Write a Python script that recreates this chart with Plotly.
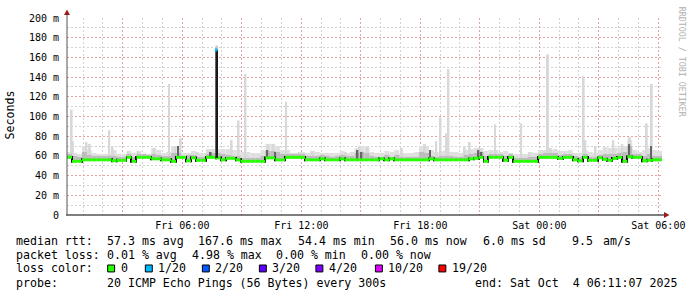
import plotly.graph_objects as go
import pandas as pd

# ---------------- data ----------------
START = "2025-10-03 00:11:07"
END = "2025-10-04 06:11:07"
STEP = "15min"

# median rtt per 15-minute step (ms)
median_ms = [
    58.5, 54.5, 54.5, 56, 56, 56, 56, 56, 56, 55,
    55.5, 55.5, 58.5, 54.5, 58.5, 58.5, 58.5, 57, 57, 56,
    56, 54.5, 58.5, 58.5, 55, 58, 55.5, 55.5, 58.5, 58.5,
    58, 56, 57.5, 57.5, 56, 54.5, 54.5, 54.5, 54.5, 54.5,
    58, 58, 56, 56, 58.5, 58.5, 58.5, 58.5, 56, 56,
    56, 57, 56, 56, 56, 57, 56, 56, 56, 56,
    56, 56, 56, 57, 56, 57, 56, 56, 56, 56,
    56, 56, 56, 57, 56, 56, 56, 56, 56, 56,
    56, 57, 57.5, 58.5, 54.5, 58.5, 58.5, 58.5, 55.5, 58.5,
    54.5, 54.5, 54.5, 54.5, 54.5, 58.5, 58.5, 58.5, 58.5, 57.5,
    58.5, 58.5, 56, 55, 58.5, 55.5, 55.5, 58, 56.5, 55.5,
    57.5, 58.5, 54.5, 59, 58.5, 58.5, 55, 55.5, 56, 56,
]

# highest ping per step (light smoke top, ms)
smoke_max_ms = [
    64, 63, 62, 70, 66, 63, 62, 62, 62, 66,
    62, 62, 65, 63, 65, 62, 62, 68, 66, 63,
    64, 70, 70, 63, 63, 65, 63, 63, 67, 67,
    67, 67, 67, 66, 66, 64, 64, 63, 63, 66,
    72, 72, 70, 66, 66, 63, 63, 64, 63, 65,
    64, 63, 63, 63, 63, 65, 63, 64, 68, 70,
    69, 64, 63, 63, 65, 64, 66, 63, 63, 63,
    64, 70, 70, 66, 64, 65, 66, 64, 64, 63,
    66, 67, 68, 68, 65, 66, 66, 64, 65, 63,
    62, 62, 62, 64, 63, 66, 66, 66, 67, 65,
    65, 66, 63, 63, 66, 64, 63, 66, 69, 68,
    68, 68, 70, 76, 66, 64, 66, 68, 66, 65,
]

# denser part of the ping distribution (medium smoke top, ms)
smoke_mid_ms = [
    62, 60, 59, 64, 61, 60, 60, 60, 60, 60,
    59, 59, 62, 59, 62, 62, 61, 62, 61, 60,
    60, 63, 63, 60, 61, 61, 59, 59, 62, 63,
    63, 62, 61, 60, 60, 58, 58, 58, 58, 60,
    65, 65, 64, 62, 62, 62, 62, 62, 60, 60,
    60, 61, 60, 59, 60, 61, 60, 60, 63, 64,
    63, 60, 59, 59, 61, 59, 61, 59, 59, 59,
    59, 64, 63, 60, 59, 60, 60, 60, 59, 59,
    61, 62, 63, 64, 60, 62, 62, 62, 60, 62,
    58, 58, 58, 59, 59, 62, 63, 63, 63, 61,
    62, 62, 60, 59, 62, 59, 59, 61, 62, 62,
    62, 63, 64, 70, 62, 62, 60, 62, 60, 60,
]

# isolated slow pings (light gray spikes)
spike_times = [
    "2025-10-03 00:25", "2025-10-03 00:29", "2025-10-03 01:10", "2025-10-03 01:20",
    "2025-10-03 02:19", "2025-10-03 02:29", "2025-10-03 03:16", "2025-10-03 03:47",
    "2025-10-03 04:35", "2025-10-03 05:20", "2025-10-03 05:38", "2025-10-03 05:55",
    "2025-10-03 06:46", "2025-10-03 07:20", "2025-10-03 08:29", "2025-10-03 08:50",
    "2025-10-03 09:11", "2025-10-03 10:20", "2025-10-03 10:35", "2025-10-03 11:14",
    "2025-10-03 11:53", "2025-10-03 12:35", "2025-10-03 14:14", "2025-10-03 14:56",
    "2025-10-03 15:20", "2025-10-03 17:04", "2025-10-03 18:14", "2025-10-03 18:48",
    "2025-10-03 19:01", "2025-10-03 19:18", "2025-10-03 19:25", "2025-10-03 20:14",
    "2025-10-03 20:29", "2025-10-03 20:59", "2025-10-03 21:46", "2025-10-03 23:05",
    "2025-10-03 23:29", "2025-10-04 00:26", "2025-10-04 00:35", "2025-10-04 02:14",
    "2025-10-04 02:19", "2025-10-04 02:50", "2025-10-04 03:44", "2025-10-04 04:11",
    "2025-10-04 04:34", "2025-10-04 05:25", "2025-10-04 05:40",
]
spike_tops = [
    107, 75, 74, 72, 86, 70, 65, 65, 68, 133, 70, 78,
    64, 65, 76, 96, 143, 72, 72, 115, 64, 65, 64, 70,
    70, 68, 72, 75, 99, 83, 148, 70, 74, 68, 92, 93,
    64, 163, 68, 141, 76, 70, 76, 72, 79, 93, 133,
]

# dark (dense) smoke bursts
dark_times = [
    "2025-10-03 05:47", "2025-10-03 07:26", "2025-10-03 10:17", "2025-10-03 10:41",
    "2025-10-03 14:50", "2025-10-03 15:02", "2025-10-03 18:29", "2025-10-03 20:56",
    "2025-10-03 21:05", "2025-10-04 04:32", "2025-10-04 05:38",
]
dark_tops = [70, 64, 66, 64, 66, 64, 66, 66, 64, 72, 70]

# the median peak with packet loss
peak_times = ["2025-10-03 07:44"]
peak_base = [58.0]
peak_median = [167.6]
peak_smoke_top = [172.0]
peak_loss = [1]

loss_colors = {0: "#26ff00", 1: "#00b8ff", 2: "#0059ff", 3: "#5e00ff",
               4: "#7e00ff", 10: "#dd00ff", 19: "#ff0000"}
loss_labels = ["0", "1/20", "2/20", "3/20", "4/20", "10/20", "19/20"]
loss_keys = [0, 1, 2, 3, 4, 10, 19]

tick_times = ["2025-10-03 03:00", "2025-10-03 06:00", "2025-10-03 09:00",
              "2025-10-03 12:00", "2025-10-03 15:00", "2025-10-03 18:00",
              "2025-10-03 21:00", "2025-10-04 00:00", "2025-10-04 03:00",
              "2025-10-04 06:00"]
tick_labels = ["", "Fri 06:00", "", "Fri 12:00", "", "Fri 18:00", "",
               "Sat 00:00", "", "Sat 06:00"]
ytick_vals = [0, 20, 40, 60, 80, 100, 120, 140, 160, 180, 200]
ytick_labels = ["0", "20 m", "40 m", "60 m", "80 m", "100 m", "120 m",
                "140 m", "160 m", "180 m", "200 m"]

stats_rtt = ["57.3 ms avg", "167.6 ms max", "54.4 ms min", "56.0 ms now", "6.0 ms sd", "9.5", "am/s"]
stats_loss = ["0.01 % avg", "4.98 % max", "0.00 % min", "0.00 % now"]
probe_text = "20 ICMP Echo Pings (56 Bytes) every 300s"
end_text = "end: Sat Oct  4 06:11:07 2025"

# ---------------- geometry helpers ----------------
W, H = 697, 297
L, R, T, B = 67, 30, 16, 82
PW, PH = W - L - R, H - T - B


def px(x):
    return (x - L) / PW


def py(y):
    return (H - B - y) / PH


MIN = 60000
starts = pd.date_range(START, periods=len(median_ms), freq=STEP)
centers = starts + pd.Timedelta(minutes=7.5)
start_ts = pd.Timestamp(START)


def median_at(t):
    i = int((pd.Timestamp(t) - start_ts) / pd.Timedelta(STEP))
    i = max(0, min(len(median_ms) - 1, i))
    return median_ms[i]


fig = go.Figure()

# light smoke
fig.add_trace(go.Bar(x=centers, base=median_ms,
                     y=[a - b for a, b in zip(smoke_max_ms, median_ms)],
                     width=15 * MIN, marker=dict(color="#e0e0e0", line=dict(width=0))))
sb = [median_at(t) for t in spike_times]
fig.add_trace(go.Bar(x=pd.to_datetime(spike_times), base=sb,
                     y=[a - b for a, b in zip(spike_tops, sb)],
                     width=6 * MIN, marker=dict(color="#d8d8d8", line=dict(width=0))))
fig.add_trace(go.Bar(x=pd.to_datetime(peak_times), base=peak_base,
                     y=[a - b for a, b in zip(peak_smoke_top, peak_base)],
                     width=8 * MIN, marker=dict(color="#c8c8c8", line=dict(width=0))))
# medium smoke
fig.add_trace(go.Bar(x=centers, base=median_ms,
                     y=[a - b for a, b in zip(smoke_mid_ms, median_ms)],
                     width=15 * MIN, marker=dict(color="#bdbdbd", line=dict(width=0))))
# dark smoke
db = [median_at(t) for t in dark_times]
fig.add_trace(go.Bar(x=pd.to_datetime(dark_times), base=db,
                     y=[a - b for a, b in zip(dark_tops, db)],
                     width=5 * MIN, marker=dict(color="#666666", line=dict(width=0))))
# black step edges of the median line
ex, eb, eh = [], [], []
for i in range(1, len(median_ms)):
    if median_ms[i] != median_ms[i - 1]:
        ex.append(starts[i])
        eb.append(min(median_ms[i], median_ms[i - 1]) - 1.5)
        eh.append(abs(median_ms[i] - median_ms[i - 1]) + 3)
fig.add_trace(go.Bar(x=ex, base=eb, y=eh, width=3 * MIN,
                     marker=dict(color="#000000", line=dict(width=0))))
# median band coloured by loss (0 loss)
fig.add_trace(go.Bar(x=centers, base=[m - 1.5 for m in median_ms], y=[3] * len(median_ms),
                     width=15 * MIN, marker=dict(color=loss_colors[0], line=dict(width=0))))
# median peak
fig.add_trace(go.Bar(x=pd.to_datetime(peak_times), base=peak_base,
                     y=[a - b for a, b in zip(peak_median, peak_base)],
                     width=8 * MIN, marker=dict(color="#1a1a1a", line=dict(width=0))))
fig.add_trace(go.Bar(x=pd.to_datetime(peak_times), base=[m - 1.5 for m in peak_median],
                     y=[3] * len(peak_median), width=5 * MIN,
                     marker=dict(color=[loss_colors[k] for k in peak_loss], line=dict(width=0))))

mono = "DejaVu Sans Mono"
red_grid = "rgba(235,140,140,0.7)"
gray_grid = "#d2d2d2"

fig.update_layout(
    width=W, height=H, margin=dict(l=L, r=R, t=T, b=B, pad=0),
    paper_bgcolor="white", plot_bgcolor="white", barmode="overlay", showlegend=False,
    font=dict(family=mono, color="black"),
    xaxis=dict(type="date", range=[START, END], tickmode="array", tickvals=tick_times,
               ticktext=tick_labels, showgrid=True, gridcolor=red_grid, griddash="2px,2px",
               gridwidth=1, showline=False, zeroline=False, ticks="", ticklabelstandoff=3,
               tickfont=dict(family=mono, size=10, color="black"),
               minor=dict(dtick=3600000, tick0="2025-10-03 00:00", showgrid=True,
                          gridcolor=gray_grid, griddash="2px,2px", gridwidth=1, ticks=""),
               fixedrange=True),
    yaxis=dict(range=[0, 200], tickmode="array", tickvals=ytick_vals, ticktext=ytick_labels,
               showgrid=True, gridcolor=red_grid, griddash="2px,2px", gridwidth=1,
               showline=False, zeroline=False, ticks="", ticklabelstandoff=7,
               tickfont=dict(family=mono, size=10, color="black"),
               minor=dict(dtick=10, showgrid=True, gridcolor=gray_grid, griddash="2px,2px",
                          gridwidth=1, ticks=""),
               fixedrange=True),
)

shapes = []
# axes with arrows
shapes.append(dict(type="line", xref="paper", yref="paper", x0=px(66), x1=px(670),
                   y0=py(215), y1=py(215), line=dict(color="black", width=1)))
shapes.append(dict(type="line", xref="paper", yref="paper", x0=px(67), x1=px(67),
                   y0=py(215), y1=py(11), line=dict(color="#555555", width=1)))
shapes.append(dict(type="path", xref="paper", yref="paper",
                   path=f"M {px(64)} {py(13)} L {px(70)} {py(13)} L {px(67)} {py(7.5)} Z",
                   fillcolor="#9b1b1b", line=dict(width=0)))
shapes.append(dict(type="path", xref="paper", yref="paper",
                   path=f"M {px(669)} {py(212)} L {px(669)} {py(218)} L {px(674.5)} {py(215)} Z",
                   fillcolor="#9b1b1b", line=dict(width=0)))

ann = []
FS = 11.6


def text(x, y, s, **kw):
    d = dict(x=px(x), y=py(y), xref="paper", yref="paper", text=s, showarrow=False,
             xanchor="left", yanchor="middle", font=dict(family=mono, size=FS, color="black"),
             borderpad=0, borderwidth=0)
    d.update(kw)
    ann.append(d)


text(10, 114, "Seconds", xanchor="center", textangle=-90)
text(688, 60, "RRDTOOL / TOBI OETIKER", xanchor="center",
     textangle=90, font=dict(family=mono, size=8.3, color="#b0b0b0"))

Y1, Y2, Y3, Y4 = 241, 255, 269, 283.5
text(16, Y1, "median rtt:")
for xx, s in zip([107, 199, 300, 393, 486, 576, 607], stats_rtt):
    text(xx, Y1, s)
text(16, Y2, "packet loss:")
for xx, s in zip([107, 193, 278, 363], stats_loss):
    text(xx, Y2, s)
text(16, Y3, "loss color:")
sq_x = [108, 146, 203.5, 261, 318, 378, 442]
for xx, k, lab in zip(sq_x, loss_keys, loss_labels):
    shapes.append(dict(type="rect", xref="paper", yref="paper", x0=px(xx), x1=px(xx + 7),
                       y0=py(Y3 + 3.5), y1=py(Y3 - 3.5), fillcolor=loss_colors[k],
                       line=dict(color="black", width=1)))
    text(xx + 13, Y3, lab)
text(16, Y4, "probe:")
text(107, Y4, probe_text)
text(478, Y4, end_text)

fig.update_layout(shapes=shapes, annotations=ann)
fig.write_html("out.html")
